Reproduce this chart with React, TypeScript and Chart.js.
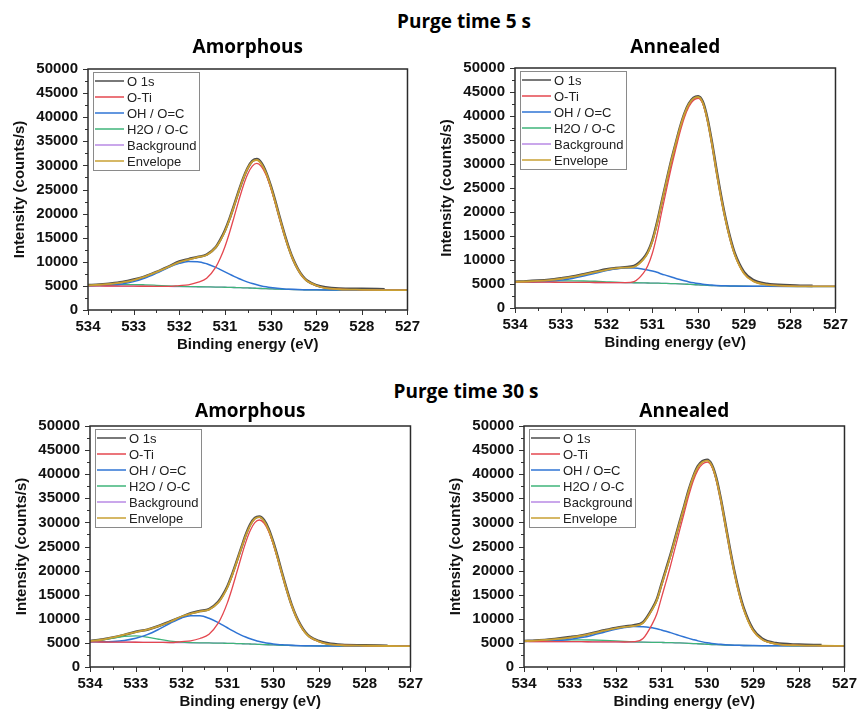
import { useEffect, useRef } from 'react';
import { Chart, registerables } from 'chart.js';

Chart.register(...registerables);

// Binding energies (eV) shared by every spectrum, high to low
const BE = [
  534, 533.75, 533.5, 533.25, 533, 532.75, 532.5, 532.25, 532, 531.8, 531.6, 531.4, 531.2,
  531.1, 531.0, 530.9, 530.8, 530.7, 530.6, 530.5, 530.4, 530.3, 530.2, 530.1, 530.0,
  529.9, 529.8, 529.7, 529.6, 529.5, 529.4, 529.3, 529.2, 529.0, 528.8, 528.5, 528.0, 527.5, 527.0,
];

// ---- Purge time 5 s, amorphous ----
const o1sAm5 = [5150, 5300, 5500, 5800, 6300, 6950, 7900, 8950, 10050, 10550, 11000, 11500, 13050, 14600, 16500, 18900, 21700, 24600, 27300, 29500, 30900, 31300, 30500, 28600, 25900, 22700, 19200, 15900, 12900, 10400, 8500, 7050, 6100, 5150, 4700, 4450, 4380, 4300, null];
const otiAm5 = [5000, 4990, 4975, 4960, 4945, 4925, 4905, 4885, 5060, 5230, 5720, 6600, 8900, 10780, 13140, 16040, 19280, 22590, 25690, 28200, 29840, 30400, 29760, 28040, 25470, 22300, 18930, 15630, 12680, 10280, 8370, 6930, 6010, 5080, 4550, 4305, 4190, 4135, 4125];
const ohAm5 = [5040, 5080, 5170, 5416, 5888, 6640, 7650, 8760, 9670, 10060, 10030, 9600, 8850, 8390, 7920, 7440, 6980, 6540, 6150, 5790, 5480, 5220, 4990, 4810, 4660, 4545, 4455, 4380, 4325, 4285, 4250, 4225, 4205, 4180, 4162, 4150, 4140, 4130, 4125];
const h2oAm5 = [5060, 5150, 5230, 5280, 5280, 5220, 5120, 5010, 4920, 4865, 4825, 4790, 4760, 4740, 4720, 4695, 4670, 4640, 4610, 4575, 4540, 4500, 4460, 4420, 4385, 4350, 4320, 4290, 4265, 4245, 4225, 4210, 4195, 4175, 4160, 4150, 4140, 4130, 4125];
const bgAm5 = [5000, 4990, 4975, 4960, 4945, 4925, 4905, 4885, 4860, 4840, 4815, 4790, 4760, 4740, 4720, 4695, 4670, 4640, 4610, 4575, 4540, 4500, 4460, 4420, 4385, 4350, 4320, 4290, 4265, 4245, 4225, 4210, 4195, 4175, 4160, 4150, 4140, 4130, 4125];
const envAm5 = [5100, 5240, 5425, 5736, 6223, 6934, 7866, 8883, 9927, 10472, 10948, 11410, 12990, 14427, 16337, 18785, 21586, 24492, 27232, 29413, 30787, 31116, 30297, 28430, 25746, 22494, 19061, 15724, 12741, 10318, 8394, 6945, 6018, 5086, 4550, 4305, 4190, 4135, 4125];

// ---- Purge time 5 s, annealed ----
const o1sAn5 = [5480, 5560, 5700, 5900, 6200, 6550, 7050, 7550, 8050, 8300, 8500, 8750, 10300, 11700, 14100, 17700, 21900, 26100, 30200, 33900, 37500, 40500, 42600, 43800, 44100, 43000, 39600, 34600, 28800, 23400, 18600, 14600, 11400, 7500, 5850, 5050, 4750, 4600, null];
const otiAn5 = [5400, 5390, 5380, 5370, 5355, 5345, 5330, 5315, 5300, 5285, 5300, 5500, 7200, 8800, 11400, 15200, 19800, 24300, 28700, 32700, 36500, 39700, 42000, 43300, 43700, 42600, 39200, 34200, 28400, 23000, 18300, 14300, 11100, 7200, 5600, 4850, 4560, 4500, 4490];
const ohAn5 = [5415, 5430, 5482, 5596, 5808, 6160, 6648, 7231, 7802, 8156, 8343, 8323, 8096, 7913, 7692, 7448, 7100, 6800, 6500, 6200, 5920, 5660, 5430, 5240, 5080, 4950, 4850, 4770, 4710, 4660, 4620, 4590, 4570, 4540, 4525, 4512, 4500, 4495, 4490];
const h2oAn5 = [5430, 5480, 5540, 5600, 5640, 5650, 5630, 5570, 5460, 5370, 5300, 5260, 5225, 5210, 5190, 5170, 5150, 5125, 5095, 5060, 5020, 4975, 4925, 4875, 4820, 4770, 4720, 4680, 4645, 4615, 4590, 4570, 4555, 4535, 4520, 4510, 4500, 4495, 4490];
const bgAn5 = [5400, 5390, 5380, 5370, 5355, 5345, 5330, 5315, 5300, 5285, 5270, 5250, 5225, 5210, 5190, 5170, 5150, 5125, 5095, 5060, 5020, 4975, 4925, 4875, 4820, 4770, 4720, 4680, 4645, 4615, 4590, 4570, 4555, 4535, 4520, 4510, 4500, 4495, 4490];
const envAn5 = [5445, 5520, 5642, 5826, 6093, 6465, 6948, 7486, 7962, 8241, 8403, 8583, 10071, 11503, 13902, 17478, 21750, 25975, 30105, 33840, 37400, 40385, 42505, 43665, 43960, 42780, 39330, 34290, 28465, 23045, 18330, 14320, 11115, 7205, 5600, 4850, 4560, 4500, 4490];

// ---- Purge time 30 s, amorphous ----
const o1sAm30 = [5350, 5700, 6100, 6650, 7300, 7750, 8500, 9450, 10400, 11150, 11600, 12000, 13500, 14900, 16700, 19100, 21800, 24600, 27400, 29600, 30900, 31200, 30500, 28700, 26000, 22800, 19300, 16000, 13000, 10600, 8700, 7250, 6300, 5400, 4900, 4600, 4500, 4400, null];
const otiAm30 = [5200, 5185, 5170, 5155, 5140, 5120, 5100, 5080, 5261, 5422, 5913, 6791, 9083, 10946, 13300, 16190, 19416, 22714, 25806, 28300, 29942, 30495, 29862, 28145, 25576, 22419, 19061, 15785, 12845, 10451, 8548, 7114, 6201, 5283, 4757, 4515, 4407, 4355, 4345];
const ohAm30 = [5213, 5229, 5305, 5510, 5947, 6710, 7815, 9084, 10173, 10650, 10625, 10103, 9209, 8684, 8141, 7605, 7097, 6624, 6211, 5849, 5542, 5286, 5078, 4910, 4777, 4675, 4598, 4541, 4495, 4462, 4434, 4413, 4400, 4382, 4370, 4360, 4355, 4350, 4345];
const h2oAm30 = [5365, 5611, 5994, 6350, 6442, 6186, 5755, 5383, 5160, 5072, 5020, 4985, 4955, 4935, 4915, 4890, 4865, 4835, 4805, 4770, 4735, 4695, 4655, 4615, 4575, 4540, 4510, 4485, 4460, 4440, 4420, 4405, 4395, 4380, 4370, 4360, 4355, 4350, 4345];
const bgAm30 = [5200, 5185, 5170, 5155, 5140, 5120, 5100, 5080, 5055, 5035, 5010, 4985, 4955, 4935, 4915, 4890, 4865, 4835, 4805, 4770, 4735, 4695, 4655, 4615, 4575, 4540, 4510, 4485, 4460, 4440, 4420, 4405, 4395, 4380, 4370, 4360, 4355, 4350, 4345];
const envAm30 = [5378, 5655, 6129, 6705, 7249, 7776, 8470, 9387, 10484, 11074, 11538, 11909, 13337, 14695, 16526, 18905, 21648, 24503, 27212, 29379, 30749, 31086, 30285, 28440, 25778, 22554, 19149, 15841, 12880, 10473, 8562, 7122, 6206, 5283, 4757, 4515, 4407, 4355, 4345];

// ---- Purge time 30 s, annealed ----
const o1sAn30 = [5400, 5500, 5650, 5900, 6200, 6550, 7050, 7600, 8100, 8400, 8650, 9300, 12100, 14000, 17100, 20200, 23300, 26700, 30100, 33400, 36800, 39600, 41700, 42700, 43000, 42000, 39200, 34800, 29600, 24400, 19600, 15500, 12200, 7850, 5900, 4950, 4650, 4550, null];
const otiAn30 = [5300, 5290, 5280, 5270, 5255, 5245, 5230, 5215, 5200, 5185, 5250, 5900, 8900, 11000, 14300, 17600, 21000, 24700, 28400, 32000, 35600, 38700, 40900, 42100, 42500, 41600, 38800, 34500, 29300, 24100, 19300, 15200, 11900, 7600, 5700, 4800, 4480, 4410, 4395];
const ohAn30 = [5315, 5332, 5387, 5507, 5728, 6097, 6607, 7217, 7815, 8185, 8381, 8361, 8125, 7935, 7690, 7420, 7125, 6820, 6510, 6215, 5935, 5670, 5420, 5210, 5040, 4900, 4785, 4695, 4625, 4570, 4527, 4495, 4472, 4445, 4425, 4415, 4405, 4400, 4395];
const h2oAn30 = [5350, 5420, 5500, 5580, 5630, 5630, 5600, 5530, 5420, 5310, 5220, 5165, 5125, 5110, 5090, 5070, 5045, 5020, 4990, 4955, 4915, 4870, 4820, 4770, 4720, 4670, 4625, 4585, 4550, 4520, 4495, 4475, 4460, 4440, 4425, 4415, 4405, 4400, 4395];
const bgAn30 = [5300, 5290, 5280, 5270, 5255, 5245, 5230, 5215, 5200, 5185, 5170, 5150, 5125, 5110, 5090, 5070, 5045, 5020, 4990, 4955, 4915, 4870, 4820, 4770, 4720, 4670, 4625, 4585, 4550, 4520, 4495, 4475, 4460, 4440, 4425, 4415, 4405, 4400, 4395];
const envAn30 = [5365, 5462, 5607, 5817, 6103, 6482, 6977, 7532, 8035, 8310, 8511, 9126, 11900, 13825, 16900, 19950, 23080, 26500, 29920, 33260, 36620, 39500, 41500, 42540, 42820, 41830, 38960, 34610, 29375, 24150, 19332, 15220, 11912, 7605, 5700, 4800, 4480, 4410, 4395];

// Axis ticks
const X_TICKS = [534, 533, 532, 531, 530, 529, 528, 527];
const Y_TICKS = [0, 5000, 10000, 15000, 20000, 25000, 30000, 35000, 40000, 45000, 50000];

// Series styling (legend order)
const SERIES_LABELS = ['O 1s', 'O-Ti', 'OH / O=C', 'H2O / O-C', 'Background', 'Envelope'];
const SERIES_COLORS = ['#4d4d4d', '#e4474f', '#2f74d4', '#3fb47a', '#b88ae4', '#c9a033'];
const SERIES_WIDTHS = [2.6, 1.3, 1.5, 1.3, 1.3, 1.8];
const SERIES_ORDER = [5, 1, 2, 3, 4, 0]; // lower value is drawn on top

const GROUP_TITLES = [
  { text: 'Purge time 5 s', x: 464, baseline: 28 },
  { text: 'Purge time 30 s', x: 466, baseline: 398 },
];

const PANELS = [
  { title: 'Amorphous', rect: { L: 88, R: 416, T: 69, B: 310 }, titleGap: 16,
    series: [o1sAm5, otiAm5, ohAm5, h2oAm5, bgAm5, envAm5] },
  { title: 'Annealed', rect: { L: 515, R: 844, T: 68, B: 308 }, titleGap: 15,
    series: [o1sAn5, otiAn5, ohAn5, h2oAn5, bgAn5, envAn5] },
  { title: 'Amorphous', rect: { L: 90, R: 419, T: 426, B: 667 }, titleGap: 9,
    series: [o1sAm30, otiAm30, ohAm30, h2oAm30, bgAm30, envAm30] },
  { title: 'Annealed', rect: { L: 524, R: 853, T: 426, B: 667 }, titleGap: 9,
    series: [o1sAn30, otiAn30, ohAn30, h2oAn30, bgAn30, envAn30] },
];

const FONT = '"Liberation Sans", Arial, sans-serif';
const TITLE_FONT = '"Open Sans", sans-serif';
const Y_AXIS_W = 88;
const X_AXIS_H = 44;
const PAD_TOP = 60;
const PAD_RIGHT = 12;

// Frame, outward ticks, boxed legend inside the plot and the panel title
const panelDecor = {
  id: 'panelDecor',
  afterDatasetsDraw(chart: any, _args: any, opts: any) {
    const { ctx, chartArea } = chart;
    const { left, right, top, bottom } = chartArea;
    const xs = chart.scales.x;
    const ys = chart.scales.y;
    ctx.save();

    // ticks
    ctx.strokeStyle = '#333';
    ctx.lineWidth = 1;
    ctx.beginPath();
    X_TICKS.forEach((v, i) => {
      const px = Math.round(xs.getPixelForValue(v)) + 0.5;
      ctx.moveTo(px, bottom); ctx.lineTo(px, bottom + 5);
      if (i < X_TICKS.length - 1) {
        const pm = Math.round(xs.getPixelForValue((v + X_TICKS[i + 1]) / 2)) + 0.5;
        ctx.moveTo(pm, bottom); ctx.lineTo(pm, bottom + 3);
      }
    });
    Y_TICKS.forEach((v, i) => {
      const py = Math.round(ys.getPixelForValue(v)) + 0.5;
      ctx.moveTo(left - 5, py); ctx.lineTo(left, py);
      if (i < Y_TICKS.length - 1) {
        const pm = Math.round(ys.getPixelForValue((v + Y_TICKS[i + 1]) / 2)) + 0.5;
        ctx.moveTo(left - 3, pm); ctx.lineTo(left, pm);
      }
    });
    ctx.stroke();

    // frame
    ctx.lineWidth = 1.5;
    ctx.strokeStyle = '#2b2b2b';
    ctx.strokeRect(left, top, right - left, bottom - top);

    // legend box
    const lx = left + 5;
    const ly = top + 3;
    const lw = 106;
    const lh = 98;
    ctx.fillStyle = '#ffffff';
    ctx.fillRect(lx, ly, lw, lh);
    ctx.lineWidth = 1;
    ctx.strokeStyle = '#8a8a8a';
    ctx.strokeRect(lx + 0.5, ly + 0.5, lw, lh);
    ctx.font = `13px ${FONT}`;
    ctx.textBaseline = 'middle';
    ctx.textAlign = 'left';
    chart.data.datasets.forEach((ds: any, i: number) => {
      const ry = ly + 9 + i * 16;
      ctx.strokeStyle = ds.borderColor;
      ctx.lineWidth = 1.5;
      ctx.beginPath();
      ctx.moveTo(lx + 2, ry);
      ctx.lineTo(lx + 31, ry);
      ctx.stroke();
      ctx.fillStyle = '#222';
      ctx.fillText(ds.label, lx + 34, ry + 1);
    });

    // panel title
    ctx.fillStyle = '#000';
    ctx.font = `bold 19px ${TITLE_FONT}`;
    ctx.textAlign = 'center';
    ctx.textBaseline = 'alphabetic';
    ctx.fillText(opts.title, (left + right) / 2, top - opts.titleGap);
    ctx.restore();
  },
};

function makeConfig(panel: any): any {
  const tickFont = { family: FONT, size: 15, weight: 'bold' };
  return {
    type: 'line',
    data: {
      datasets: panel.series.map((vals: (number | null)[], i: number) => ({
        label: SERIES_LABELS[i],
        data: BE.map((x, k) => ({ x, y: vals[k] })),
        borderColor: SERIES_COLORS[i],
        backgroundColor: SERIES_COLORS[i],
        borderWidth: SERIES_WIDTHS[i],
        pointRadius: 0,
        fill: false,
        cubicInterpolationMode: 'monotone',
        spanGaps: false,
        order: SERIES_ORDER[i],
      })),
    },
    options: {
      responsive: false,
      animation: false,
      devicePixelRatio: 1,
      events: [],
      layout: { padding: { left: 0, top: PAD_TOP, right: PAD_RIGHT, bottom: 0 } },
      plugins: {
        legend: { display: false },
        tooltip: { enabled: false },
        title: { display: false },
        panelDecor: { title: panel.title, titleGap: panel.titleGap },
      },
      scales: {
        x: {
          type: 'linear',
          reverse: true,
          min: 527,
          max: 534,
          grid: { display: false, drawTicks: false },
          border: { display: false },
          afterBuildTicks: (s: any) => { s.ticks = X_TICKS.map((value) => ({ value })); },
          afterFit: (s: any) => { s.height = X_AXIS_H; },
          ticks: { font: tickFont, color: '#111', padding: 8, maxRotation: 0, autoSkip: false,
            callback: (v: any) => String(v) },
          title: { display: true, text: 'Binding energy (eV)', color: '#111',
            font: { family: FONT, size: 15, weight: 'bold', lineHeight: 1.2 }, padding: { top: 0, bottom: 0 } },
        },
        y: {
          type: 'linear',
          min: 0,
          max: 50000,
          grid: { display: false, drawTicks: false },
          border: { display: false },
          afterBuildTicks: (s: any) => { s.ticks = Y_TICKS.map((value) => ({ value })); },
          afterFit: (s: any) => { s.width = Y_AXIS_W; },
          ticks: { font: tickFont, color: '#111', padding: 10, autoSkip: false,
            callback: (v: any) => String(v) },
          title: { display: true, text: 'Intensity (counts/s)', color: '#111',
            font: { family: FONT, size: 15, weight: 'bold', lineHeight: 1.2 }, padding: { top: 11, bottom: 0 } },
        },
      },
    },
    plugins: [panelDecor],
  };
}

function SpectrumPanel({ panel }: { panel: any }) {
  const ref = useRef<HTMLCanvasElement | null>(null);
  useEffect(() => {
    if (!ref.current) return;
    const chart = new Chart(ref.current, makeConfig(panel));
    return () => chart.destroy();
  }, [panel]);
  const { L, R, T, B } = panel.rect;
  const left = L - Y_AXIS_W;
  const top = T - PAD_TOP;
  const w = R + PAD_RIGHT - left;
  const h = B + X_AXIS_H - top;
  return (
    <canvas
      ref={ref}
      width={w}
      height={h}
      style={{ position: 'absolute', left, top, width: w, height: h }}
    />
  );
}

export default function App() {
  return (
    <div style={{ position: 'absolute', left: 0, top: 0, width: 866, height: 711, overflow: 'hidden', background: '#fff' }}>
      {GROUP_TITLES.map((g) => (
        <div
          key={g.text}
          style={{
            position: 'absolute',
            left: g.x,
            top: g.baseline - 20.3,
            transform: 'translateX(-50%)',
            font: `bold 19px ${TITLE_FONT}`,
            lineHeight: '26px',
            whiteSpace: 'nowrap',
            color: '#000',
          }}
        >
          {g.text}
        </div>
      ))}
      {PANELS.map((p, i) => (
        <SpectrumPanel key={i} panel={p} />
      ))}
    </div>
  );
}
